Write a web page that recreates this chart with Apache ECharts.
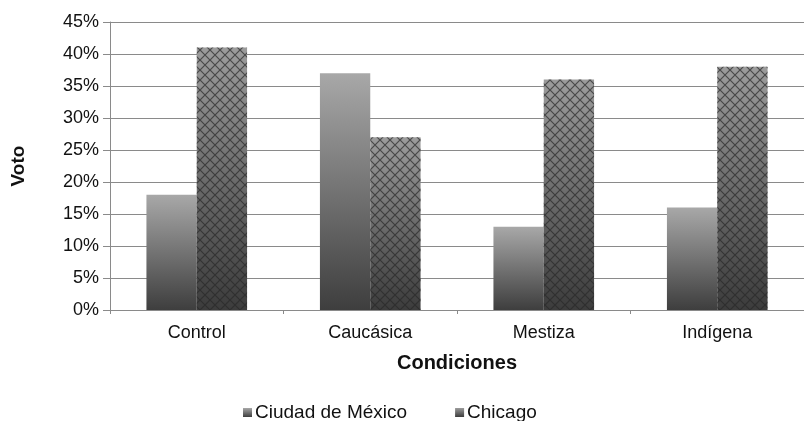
<!DOCTYPE html>
<html>
<head>
<meta charset="utf-8">
<style>
  html, body { margin: 0; padding: 0; background: #fff; }
  #chart { width: 804px; height: 421px; }
</style>
<script src="https://cdn.jsdelivr.net/npm/echarts@6/dist/echarts.min.js"></script>
</head>
<body>
<div id="chart"></div>
<script>
// Categories and values (percent of votes)
const categories = ['Control', 'Caucásica', 'Mestiza', 'Indígena'];
const mexicoValues = [18, 37, 13, 16];
const chicagoValues = [41, 27, 36, 38];
const seriesNames = ['Ciudad de México', 'Chicago'];
const yTicks = { min: 0, max: 45, step: 5 };

// Cross-hatch tile drawn on a small canvas and repeated over the Chicago bars
function makeHatch(size) {
  const c = document.createElement('canvas');
  c.width = size; c.height = size;
  const g = c.getContext('2d');
  g.strokeStyle = 'rgba(40,40,40,0.7)';
  g.lineWidth = 1.2;
  g.beginPath();
  g.moveTo(-1, -1); g.lineTo(size + 1, size + 1);
  g.moveTo(size + 1, -1); g.lineTo(-1, size + 1);
  g.stroke();
  return c;
}

function vGrad(top, bottom) {
  return new echarts.graphic.LinearGradient(0, 0, 0, 1, [
    { offset: 0, color: top },
    { offset: 1, color: bottom }
  ]);
}

const font = '"Liberation Sans", Arial, sans-serif';
const hatch = { image: makeHatch(10), repeat: 'repeat' };

const chart = echarts.init(document.getElementById('chart'));
const catGap = '42%';

chart.setOption({
  animation: false,
  backgroundColor: '#ffffff',
  textStyle: { fontFamily: font },
  grid: { left: 110, right: 0, top: 22, bottom: 111 },
  legend: {
    data: seriesNames,
    left: 238,
    top: 398,
    itemWidth: 9,
    itemHeight: 9,
    itemGap: 48,
    icon: 'rect',
    textStyle: { fontFamily: font, fontSize: 19, color: '#111', padding: [0, 0, 0, -2] }
  },
  xAxis: [{
    type: 'category',
    data: categories,
    name: 'Condiciones',
    nameLocation: 'middle',
    nameGap: 43,
    nameTextStyle: { fontFamily: font, fontSize: 20, fontWeight: 'bold', color: '#111' },
    axisLine: { show: true, lineStyle: { color: '#8a8a8a', width: 1 } },
    axisTick: { show: true, length: 4, lineStyle: { color: '#8a8a8a' } },
    axisLabel: { fontFamily: font, fontSize: 18, color: '#111', margin: 14 }
  }, {
    type: 'category',
    data: categories,
    show: false
  }],
  yAxis: {
    type: 'value',
    min: yTicks.min,
    max: yTicks.max,
    interval: yTicks.step,
    name: 'Voto',
    nameLocation: 'middle',
    nameGap: 82,
    nameRotate: 90,
    nameTextStyle: { fontFamily: font, fontSize: 19, fontWeight: 'bold', color: '#111' },
    axisLine: { show: true, lineStyle: { color: '#8a8a8a', width: 1 } },
    axisTick: { show: true, length: 7, lineStyle: { color: '#8a8a8a' } },
    splitLine: { show: true, lineStyle: { color: '#8a8a8a', width: 1.2 } },
    axisLabel: { fontFamily: font, fontSize: 18, color: '#111', margin: 11, formatter: '{value}%' }
  },
  series: [
    {
      name: seriesNames[0],
      type: 'bar',
      xAxisIndex: 0,
      barGap: '0%',
      barCategoryGap: catGap,
      data: mexicoValues,
      itemStyle: { color: vGrad('#a8a8a8', '#3e3e3e') },
      z: 2
    },
    {
      name: seriesNames[1],
      type: 'bar',
      xAxisIndex: 0,
      barGap: '0%',
      barCategoryGap: catGap,
      data: chicagoValues,
      itemStyle: { color: vGrad('#9c9c9c', '#3c3c3c') },
      z: 2
    },
    // hatch overlay sharing the Chicago slot on the hidden axis
    {
      name: 'slot',
      type: 'bar',
      xAxisIndex: 1,
      barGap: '0%',
      barCategoryGap: catGap,
      data: categories.map(() => null),
      silent: true,
      z: 3
    },
    {
      name: 'hatch',
      type: 'bar',
      xAxisIndex: 1,
      barGap: '0%',
      barCategoryGap: catGap,
      data: chicagoValues,
      itemStyle: { color: hatch },
      silent: true,
      z: 3
    }
  ]
});
</script>
</body>
</html>
